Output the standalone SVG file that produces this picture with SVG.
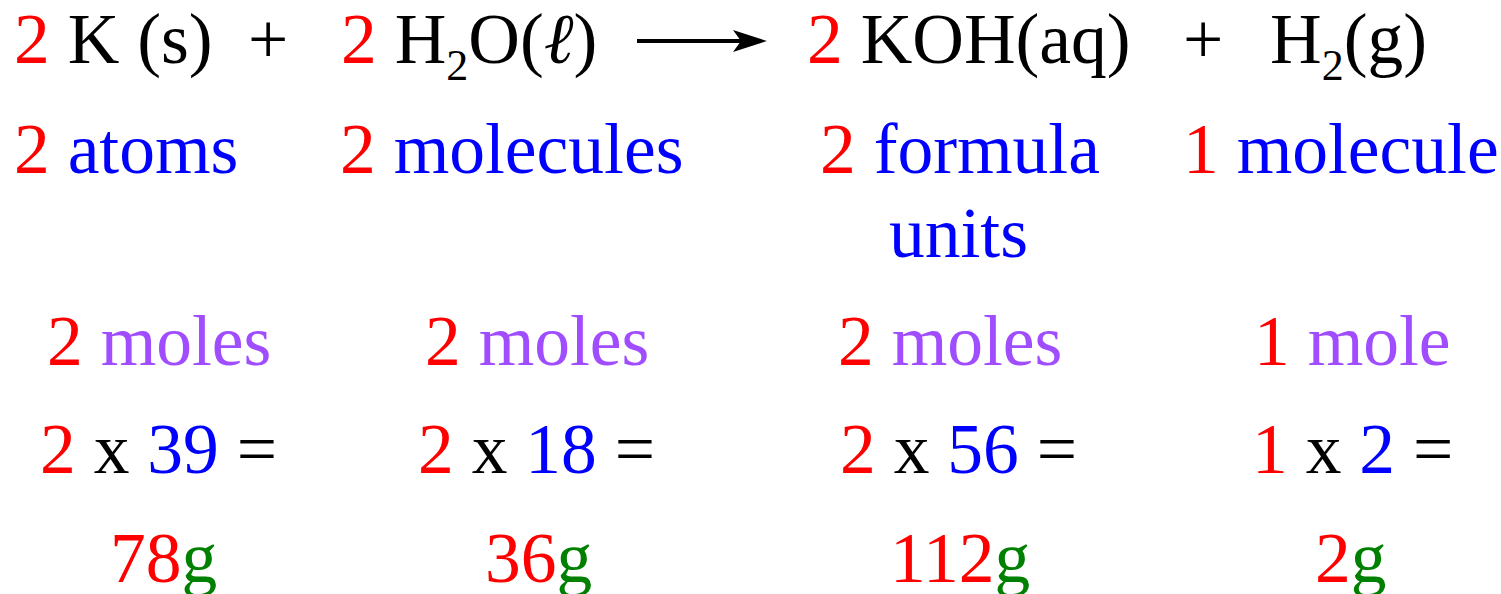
<svg xmlns="http://www.w3.org/2000/svg" width="1501" height="594" viewBox="0 0 1501 594">
<style>
text{font-family:"Liberation Serif","Times New Roman",serif;font-size:71.5px;fill:#000}
.r{fill:#ff0000}.b{fill:#0000ff}.p{fill:#a04cff}.g{fill:#008000}
.sub{font-size:44px}
.it{font-style:italic}
</style>
<g id="equation">
<text x="14" y="63"><tspan class="r">2</tspan> K (s)</text>
<text x="248" y="63">+</text>
<text x="341" y="63"><tspan class="r">2</tspan> H<tspan class="sub" dy="17">2</tspan><tspan dy="-17">O(</tspan><tspan class="it">ℓ</tspan>)</text>
<text x="807" y="63"><tspan class="r">2</tspan> KOH(aq)</text>
<text x="1183" y="63">+</text>
<text x="1270" y="63">H<tspan class="sub" dy="17">2</tspan><tspan dy="-17">(g)</tspan></text>
</g>
<g id="connectors">
<line x1="637" y1="41" x2="742" y2="41" stroke="#000" stroke-width="4"/>
<path d="M733,30 L767,41 L733,52 L741,41 z" fill="#000"/>
</g>
<g id="particles">
<text x="14" y="173"><tspan class="r">2</tspan> <tspan class="b">atoms</tspan></text>
<text x="340" y="173"><tspan class="r">2</tspan> <tspan class="b">molecules</tspan></text>
<text x="820" y="173"><tspan class="r">2</tspan> <tspan class="b">formula</tspan></text>
<text x="889" y="257" class="b">units</text>
<text x="1183" y="173"><tspan class="r">1</tspan> <tspan class="b">molecule</tspan></text>
</g>
<g id="moles">
<text x="47" y="365"><tspan class="r">2</tspan> <tspan class="p">moles</tspan></text>
<text x="425" y="365"><tspan class="r">2</tspan> <tspan class="p">moles</tspan></text>
<text x="838" y="365"><tspan class="r">2</tspan> <tspan class="p">moles</tspan></text>
<text x="1254" y="365"><tspan class="r">1</tspan> <tspan class="p">mole</tspan></text>
</g>
<g id="products">
<text x="40" y="473"><tspan class="r">2</tspan> x <tspan class="b">39</tspan> =</text>
<text x="418" y="473"><tspan class="r">2</tspan> x <tspan class="b">18</tspan> =</text>
<text x="840" y="473"><tspan class="r">2</tspan> x <tspan class="b">56</tspan> =</text>
<text x="1252" y="473"><tspan class="r">1</tspan> x <tspan class="b">2</tspan> =</text>
</g>
<g id="masses">
<text x="110" y="582"><tspan class="r">78</tspan><tspan class="g">g</tspan></text>
<text x="485" y="582"><tspan class="r">36</tspan><tspan class="g">g</tspan></text>
<text x="890" y="582"><tspan class="r">112</tspan><tspan class="g">g</tspan></text>
<text x="1315" y="582"><tspan class="r">2</tspan><tspan class="g">g</tspan></text>
</g>
</svg>
